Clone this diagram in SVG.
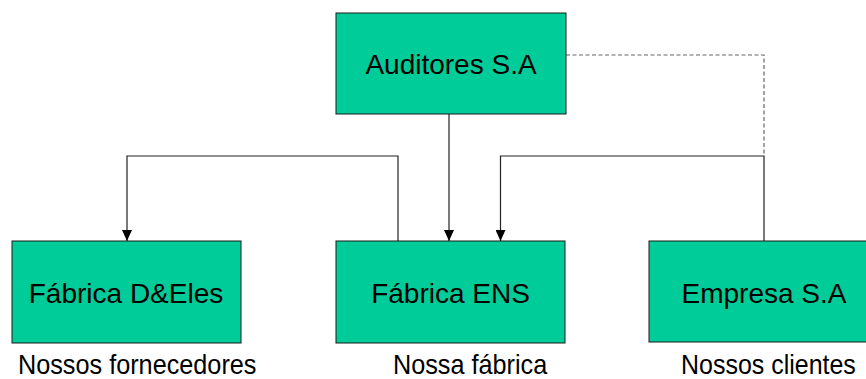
<svg xmlns="http://www.w3.org/2000/svg" width="866" height="379" viewBox="0 0 866 379">
  <style>
    .box { fill: #00CC99; stroke: #1a1a1a; stroke-width: 1; }
    .lbl { font-family: "Liberation Sans", Arial, sans-serif; font-size: 28px; fill: #000; text-anchor: middle; }
    .cap { font-family: "Liberation Sans", Arial, sans-serif; font-size: 27px; fill: #000; }
    .wire { fill: none; stroke: #222; stroke-width: 1.2; }
    .dash { fill: none; stroke: #666; stroke-width: 1.2; stroke-dasharray: 4 2.5; }
  </style>
  <defs>
    <!-- filled triangular arrowhead, tip on the path end -->
    <marker id="arrow" viewBox="0 0 11 10" refX="11" refY="5" markerWidth="11" markerHeight="10" markerUnits="userSpaceOnUse" orient="auto">
      <path d="M0,0 L11,5 L0,10 Z" fill="#000"/>
    </marker>
  </defs>
  <rect width="866" height="379" fill="#fff"/>

  <!-- connectors -->
  <g id="connectors">
    <path class="dash" d="M566,55 H764 V156"/>
    <path class="wire" d="M398,241 V156 H127 V241" marker-end="url(#arrow)"/>
    <path class="wire" d="M449,114 V241" marker-end="url(#arrow)"/>
    <path class="wire" d="M764,241 V156 H500.5 V241" marker-end="url(#arrow)"/>
  </g>

  <g id="auditores">
    <rect class="box" x="336" y="13" width="230" height="101"/>
    <text class="lbl" x="451" y="74">Auditores S.A</text>
  </g>

  <g id="fabrica-deles">
    <rect class="box" x="12" y="241" width="229" height="102"/>
    <text class="lbl" x="126" y="303">Fábrica D&amp;Eles</text>
  </g>

  <g id="fabrica-ens">
    <rect class="box" x="336" y="241" width="229" height="102"/>
    <text class="lbl" x="450.5" y="303">Fábrica ENS</text>
  </g>

  <g id="empresa">
    <rect class="box" x="649" y="241" width="230" height="101"/>
    <text class="lbl" x="764" y="303">Empresa S.A</text>
  </g>

  <!-- captions under the boxes, slightly condensed -->
  <g id="captions">
    <text class="cap" transform="translate(18,374) scale(0.935,1)">Nossos fornecedores</text>
    <text class="cap" transform="translate(393,374) scale(0.935,1)">Nossa fábrica</text>
    <text class="cap" transform="translate(681,374) scale(0.925,1)">Nossos clientes</text>
  </g>
</svg>
